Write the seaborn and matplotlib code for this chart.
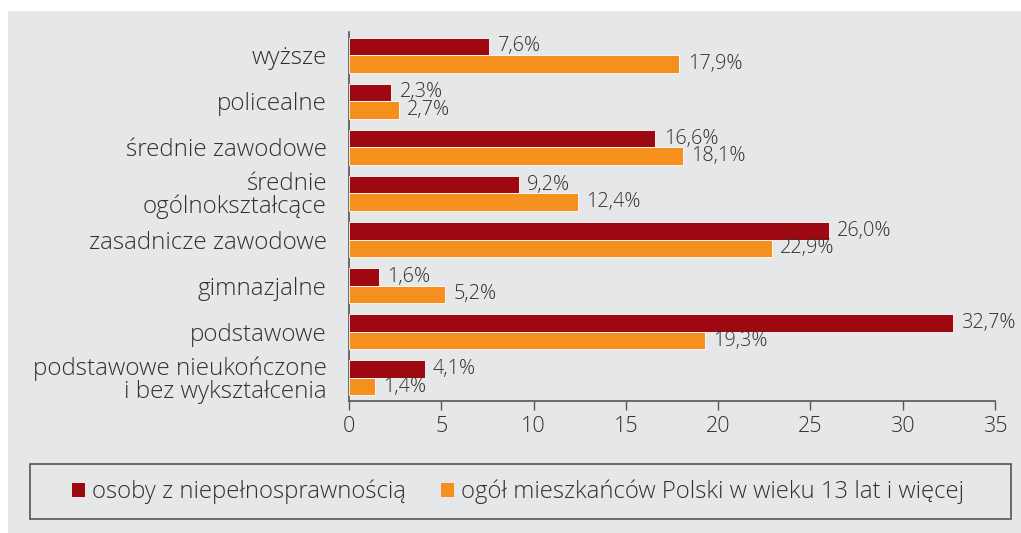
import pandas as pd
import numpy as np
import matplotlib
matplotlib.use("Agg")
import matplotlib.pyplot as plt
from matplotlib.patches import Rectangle, Patch
import seaborn as sns

# dane
kategorie = ["wyższe", "policealne", "średnie zawodowe", "średnie\nogólnokształcące",
             "zasadnicze zawodowe", "gimnazjalne", "podstawowe",
             "podstawowe nieukończone\ni bez wykształcenia"]
niepelnosprawni = [7.6, 2.3, 16.6, 9.2, 26.0, 1.6, 32.7, 4.1]
ogol = [17.9, 2.7, 18.1, 12.4, 22.9, 5.2, 19.3, 1.4]
serie = ["osoby z niepełnosprawnością", "ogół mieszkańców Polski w wieku 13 lat i więcej"]

df = pd.DataFrame({
    "kategoria": kategorie * 2,
    "wartosc": niepelnosprawni + ogol,
    "grupa": [serie[0]] * len(kategorie) + [serie[1]] * len(kategorie),
})

red = "#9E0810"
orange = "#F5901F"
bg = "#E6E7E9"
txt = "#303030"
axc = "#555555"

sns.set_style("white")
plt.rcParams["font.family"] = ["Open Sans", "DejaVu Sans"]
plt.rcParams["font.weight"] = "light"

W, H = 1021, 533
fig = plt.figure(figsize=(W / 100, H / 100), dpi=100)
fig.patch.set_facecolor("white")
fig.patches.append(Rectangle((8 / W, 0), 1 - 8 / W, (H - 11) / H, transform=fig.transFigure,
                             facecolor=bg, edgecolor="none", zorder=-10))

ax = fig.add_axes([349 / W, (H - 401) / H, (995 - 349) / W, (401 - 32) / H])
ax.set_facecolor("none")

sns.barplot(data=df, y="kategoria", x="wartosc", hue="grupa", orient="h",
            palette=[red, orange], saturation=1, width=0.76, edgecolor="white",
            linewidth=0.6, ax=ax, legend=False)

for cont, vals in zip(ax.containers, [niepelnosprawni, ogol]):
    labs = [f"{v:.1f}%".replace(".", ",") for v in vals]
    ax.bar_label(cont, labels=labs, padding=6, fontsize=14.3, color=txt)

ax.set_xlim(0, 35)
ax.set_xticks(np.arange(0, 36, 5))
ax.set_ylim(7.5, -0.5)
ax.set_xlabel("")
ax.set_ylabel("")

for s in ["top", "right"]:
    ax.spines[s].set_visible(False)
for s in ["left", "bottom"]:
    ax.spines[s].set_color(axc)
    ax.spines[s].set_linewidth(1.2)
ax.spines["left"].set_zorder(0)

ax.tick_params(axis="x", direction="out", length=6.5, width=1, color=axc,
               labelsize=15.5, labelcolor=txt, pad=4, bottom=True)
ax.tick_params(axis="y", length=0, pad=16, labelsize=17.4, labelcolor=txt)
for t in ax.get_yticklabels():
    t.set_linespacing(0.92)

# legenda
fig.patches.append(Rectangle((30 / W, (H - 519) / H), 981 / W, 55 / H, transform=fig.transFigure,
                             facecolor="none", edgecolor=axc, linewidth=1.2))
handles = [Patch(facecolor=red, edgecolor="none"), Patch(facecolor=orange, edgecolor="none")]
fig.legend(handles, serie, loc="center", bbox_to_anchor=(518 / W, (H - 492) / H), ncol=2,
           frameon=False, fontsize=17.2, handlelength=0.55, handleheight=0.55,
           handletextpad=0.3, columnspacing=1.45, labelcolor=txt)

fig.savefig("out.png", dpi=100, facecolor="white")
